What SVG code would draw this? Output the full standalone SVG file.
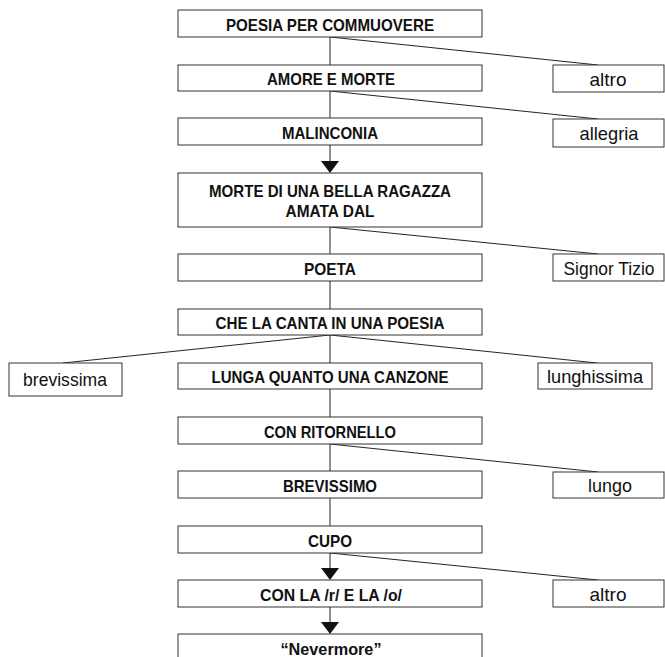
<svg xmlns="http://www.w3.org/2000/svg" width="665" height="657" viewBox="0 0 665 657">
<style>
rect{fill:#fff;stroke:#333;stroke-width:1}
.b{font-family:"Liberation Sans",Arial,sans-serif;font-weight:bold;font-size:16.5px;fill:#111;text-anchor:middle}
.r{font-family:"Liberation Sans",Arial,sans-serif;font-size:19px;fill:#111;text-anchor:middle}
#connectors line{stroke:#222;stroke-width:1}
#connectors polygon{fill:#111}
</style>
<rect x="0" y="0" width="665" height="657" style="fill:#fff;stroke:none"/>
<g id="connectors">
<line x1="330" y1="37" x2="330" y2="65"/>
<line x1="330" y1="91" x2="330" y2="118"/>
<line x1="330" y1="145" x2="330" y2="163"/>
<polygon points="321,161 339,161 330,173"/>
<line x1="330" y1="227" x2="330" y2="254"/>
<line x1="330" y1="281" x2="330" y2="309"/>
<line x1="330" y1="335" x2="330" y2="363"/>
<line x1="330" y1="389" x2="330" y2="417"/>
<line x1="330" y1="444" x2="330" y2="471"/>
<line x1="330" y1="498" x2="330" y2="526"/>
<line x1="330" y1="553" x2="330" y2="570"/>
<polygon points="321,568 339,568 330,580"/>
<line x1="330" y1="607" x2="330" y2="624"/>
<polygon points="321,622 339,622 330,634"/>
<line x1="330" y1="37" x2="598" y2="65"/>
<line x1="330" y1="91" x2="598" y2="119"/>
<line x1="330" y1="227" x2="598" y2="254"/>
<line x1="330" y1="335" x2="63" y2="363"/>
<line x1="330" y1="335" x2="597" y2="363"/>
<line x1="330" y1="444" x2="598" y2="472"/>
<line x1="330" y1="553" x2="598" y2="580"/>
</g>
<g id="n1"><rect x="178" y="10" width="304" height="27"/><text class="b" x="330" y="31" textLength="208" lengthAdjust="spacingAndGlyphs">POESIA PER COMMUOVERE</text></g>
<g id="n2"><rect x="178" y="65" width="304" height="26"/><text class="b" x="331" y="85" textLength="128" lengthAdjust="spacingAndGlyphs">AMORE E MORTE</text></g>
<g id="n3"><rect x="178" y="118" width="304" height="27"/><text class="b" x="330" y="139" textLength="96" lengthAdjust="spacingAndGlyphs">MALINCONIA</text></g>
<g id="n4"><rect x="178" y="173" width="304" height="54"/><text class="b" x="330" y="197" textLength="242" lengthAdjust="spacingAndGlyphs">MORTE DI UNA BELLA RAGAZZA</text><text class="b" x="330" y="217" textLength="89" lengthAdjust="spacingAndGlyphs">AMATA DAL</text></g>
<g id="n5"><rect x="178" y="254" width="304" height="27"/><text class="b" x="330" y="275" textLength="52" lengthAdjust="spacingAndGlyphs">POETA</text></g>
<g id="n6"><rect x="178" y="309" width="304" height="26"/><text class="b" x="330" y="329" textLength="229" lengthAdjust="spacingAndGlyphs">CHE LA CANTA IN UNA POESIA</text></g>
<g id="n7"><rect x="178" y="363" width="304" height="26"/><text class="b" x="330" y="383" textLength="237" lengthAdjust="spacingAndGlyphs">LUNGA QUANTO UNA CANZONE</text></g>
<g id="n8"><rect x="178" y="417" width="304" height="27"/><text class="b" x="330" y="438" textLength="132" lengthAdjust="spacingAndGlyphs">CON RITORNELLO</text></g>
<g id="n9"><rect x="178" y="471" width="304" height="27"/><text class="b" x="330" y="492" textLength="94" lengthAdjust="spacingAndGlyphs">BREVISSIMO</text></g>
<g id="n10"><rect x="178" y="526" width="304" height="27"/><text class="b" x="330" y="547" textLength="44" lengthAdjust="spacingAndGlyphs">CUPO</text></g>
<g id="n11"><rect x="178" y="580" width="304" height="27"/><text class="b" x="331" y="601" textLength="142" lengthAdjust="spacingAndGlyphs">CON LA /r/ E LA /o/</text></g>
<g id="n12"><rect x="178" y="634" width="304" height="30"/><text class="b" x="331" y="655" textLength="101" lengthAdjust="spacingAndGlyphs">“Nevermore”</text></g>
<g id="s1"><rect x="553" y="65" width="111" height="27"/><text class="r" x="608" y="86" textLength="37" lengthAdjust="spacingAndGlyphs">altro</text></g>
<g id="s2"><rect x="553" y="119" width="111" height="28"/><text class="r" x="609" y="140" textLength="59" lengthAdjust="spacingAndGlyphs">allegria</text></g>
<g id="s3"><rect x="553" y="254" width="111" height="27"/><text class="r" x="609" y="275" textLength="91" lengthAdjust="spacingAndGlyphs">Signor Tizio</text></g>
<g id="s4"><rect x="9" y="363" width="113" height="33"/><text class="r" x="65" y="386" textLength="84" lengthAdjust="spacingAndGlyphs">brevissima</text></g>
<g id="s5"><rect x="538" y="363" width="114" height="26"/><text class="r" x="595" y="383" textLength="96" lengthAdjust="spacingAndGlyphs">lunghissima</text></g>
<g id="s6"><rect x="553" y="472" width="111" height="26"/><text class="r" x="610" y="492" textLength="44" lengthAdjust="spacingAndGlyphs">lungo</text></g>
<g id="s7"><rect x="553" y="580" width="111" height="27"/><text class="r" x="608" y="601" textLength="37" lengthAdjust="spacingAndGlyphs">altro</text></g>
</svg>
